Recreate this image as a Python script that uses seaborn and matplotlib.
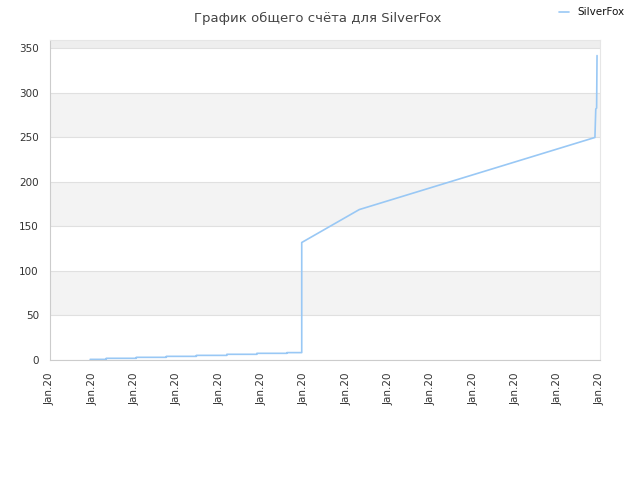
import pandas as pd
import matplotlib
matplotlib.use("Agg")
import matplotlib.pyplot as plt
import seaborn as sns

# Score history (x = position on the time axis, in tick units)
x_pos = [0.95, 1.33, 1.33, 2.04, 2.04, 2.75, 2.75, 3.46, 3.46, 4.18, 4.18,
         4.89, 4.89, 5.60, 5.60, 5.95, 5.95, 7.31, 12.88, 12.90, 12.92, 12.93]
score = [0.7, 0.7, 1.9, 1.9, 3.0, 3.0, 4.1, 4.1, 5.2, 5.2, 6.4,
         6.4, 7.5, 7.5, 8.3, 8.3, 132, 169, 250, 282, 283, 342]
tick_labels = ["Jan.20"] * 14
player = "SilverFox"

df = pd.DataFrame({"x": x_pos, "score": score, "player": player})

sns.set_style("white")
plt.rcParams["font.family"] = ["DejaVu Sans"]

fig = plt.figure(figsize=(6.4, 4.8), dpi=100)
ax = fig.add_axes([50 / 640, 120 / 480, 550 / 640, 320 / 480])

# alternating horizontal bands
ymax = 359.5
for lo in range(0, 400, 50):
    hi = min(lo + 50, ymax)
    if lo >= ymax:
        break
    if lo >= 350:
        ax.axhspan(lo, hi, color="#eeeeee", zorder=0, lw=0)
    elif (lo // 50) % 2 == 1:
        ax.axhspan(lo, hi, color="#f3f3f3", zorder=0, lw=0)

sns.lineplot(data=df, x="x", y="score", hue="player", palette=["#99c8f5"],
             estimator=None, sort=False, linewidth=1.2, ax=ax, legend=True)

ax.set_xlim(0, 13)
ax.set_ylim(0, ymax)
ax.set_yticks(range(0, 351, 50))
ax.set_xticks(range(14))
ax.set_xticklabels(tick_labels, rotation=90)
ax.yaxis.grid(True, color="#e0e0e0", linewidth=0.8)
ax.set_axisbelow(True)
ax.tick_params(axis="both", labelsize=7.5, colors="#333333", length=0)
ax.tick_params(axis="y", pad=8)
ax.tick_params(axis="x", pad=9)
for s in ["left", "bottom"]:
    ax.spines[s].set_color("#cccccc")
    ax.spines[s].set_linewidth(0.8)
for s in ["top", "right"]:
    ax.spines[s].set_visible(True)
    ax.spines[s].set_color("#e6e6e6")
ax.set_xlabel("")
ax.set_ylabel("")

fig.text(0.497, 0.975, "График общего счёта для SilverFox", ha="center",
         va="top", fontsize=9.5, color="#444444")
leg = ax.legend(loc="upper right", bbox_to_anchor=(632 / 640, 1.0),
                bbox_transform=fig.transFigure, frameon=False, fontsize=7.5,
                handlelength=1.0, handletextpad=0.8, borderaxespad=0.3)
for t in leg.get_texts():
    t.set_color("#111111")

fig.savefig("out.png", dpi=100)
